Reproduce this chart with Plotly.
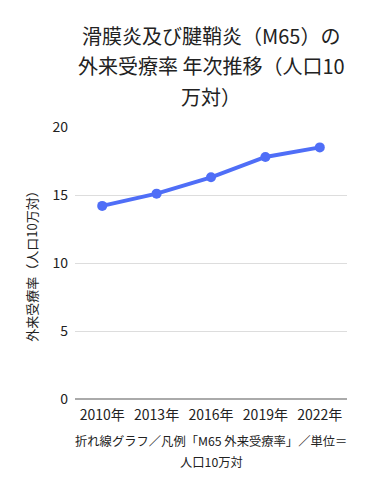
import plotly.graph_objects as go

years = ["2010年", "2013年", "2016年", "2019年", "2022年"]
rates = [14.2, 15.1, 16.3, 17.8, 18.5]
y_ticks = [0, 5, 10, 15, 20]
title_lines = ["滑膜炎及び腱鞘炎（M65）の", "外来受療率 年次推移（人口10", "万対）"]
note_lines = ["折れ線グラフ／凡例「M65 外来受療率」／単位＝", "人口10万対"]

FONT = "Noto Sans CJK JP"
TOP, BOTTOM = 127, 399  # plot area pixel rows
H = BOTTOM - TOP

def py(pix):
    return (BOTTOM - pix) / H

fig = go.Figure()
fig.add_trace(go.Scatter(
    x=years, y=rates, mode="lines+markers",
    line=dict(color="#4F6EF7", width=4),
    marker=dict(color="#4F6EF7", size=10),
    name="M65 外来受療率",
))

annotations = []
for text, ypix in zip(title_lines, [35, 66, 97]):
    annotations.append(dict(text=text, xref="paper", yref="paper", x=0.5, y=py(ypix),
                            xanchor="center", yanchor="middle", showarrow=False,
                            font=dict(size=20, family=FONT, color="#222")))
for text, ypix in zip(note_lines, [441, 462]):
    annotations.append(dict(text=text, xref="paper", yref="paper", x=0.5, y=py(ypix),
                            xanchor="center", yanchor="middle", showarrow=False,
                            font=dict(size=12.3, family=FONT, color="#222")))

fig.update_layout(
    width=373, height=490,
    margin=dict(l=75, r=26, t=TOP, b=490 - BOTTOM),
    paper_bgcolor="white", plot_bgcolor="white",
    font=dict(family=FONT, color="#222"),
    showlegend=False,
    xaxis=dict(
        type="category", range=[-0.5, 4.5], showgrid=False, showline=False, zeroline=False,
        tickfont=dict(size=14, family=FONT, color="#222"), ticks="", ticklabelstandoff=6,
    ),
    yaxis=dict(
        range=[0, 20], tickvals=y_ticks, showgrid=True, gridcolor="#dddddd",
        gridwidth=1, zeroline=True, zerolinecolor="#aaaaaa", zerolinewidth=1.5,
        tickfont=dict(size=14, family=FONT, color="#222"), ticks="", ticklabelstandoff=6,
        title=dict(text="外来受療率（人口10万対）", font=dict(size=13, family=FONT, color="#222"), standoff=11),
    ),
    annotations=annotations,
)

fig.write_html("out.html")
